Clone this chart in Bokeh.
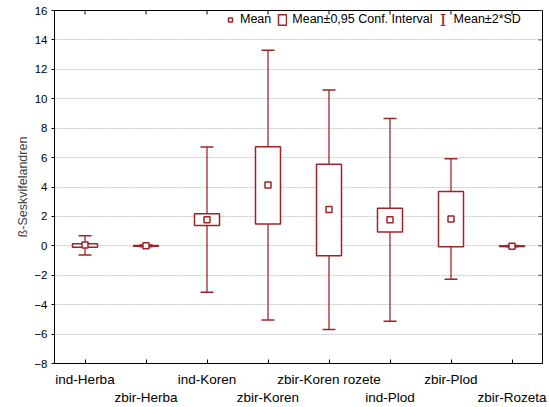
import math
from bokeh.plotting import figure
from bokeh.models import (Range1d, FixedTicker, LinearAxis, Legend, LegendItem,
                          Whisker, TeeHead, ColumnDataSource, Grid, Label)
from bokeh.embed import file_html
from bokeh.resources import INLINE

# ---- data ----
cats = ["ind-Herba", "zbir-Herba", "ind-Koren", "zbir-Koren",
        "zbir-Koren rozete", "ind-Plod", "zbir-Plod", "zbir-Rozeta"]
means = [0.05, 0.0, 1.78, 4.13, 2.47, 1.78, 1.82, -0.02]
ci_lo = [-0.10, -0.03, 1.38, 1.48, -0.67, 0.94, -0.07, -0.04]
ci_hi = [0.15, 0.03, 2.18, 6.74, 5.55, 2.56, 3.69, 0.01]
sd_lo = [-0.62, -0.06, -3.15, -5.05, -5.68, -5.13, -2.27, -0.06]
sd_hi = [0.68, 0.06, 6.72, 13.3, 10.6, 8.66, 5.92, 0.03]
y_ticks = [-8, -6, -4, -2, 0, 2, 4, 6, 8, 10, 12, 14, 16]
y_label = "ß-Seskvifelandren"
legend_labels = ["Mean", "Mean±0,95 Conf. Interval", "Mean±2*SD"]

RED = "#9e2427"
FONT = "Liberation Sans"

xs = list(range(1, len(cats) + 1))
src = ColumnDataSource(dict(x=xs, mean=means, ci_lo=ci_lo, ci_hi=ci_hi,
                            sd_lo=sd_lo, sd_hi=sd_hi))

x_lo, x_hi = 0.5, len(cats) + 0.5
y_lo, y_hi = y_ticks[0], y_ticks[-1]

p = figure(width=549, height=407, output_backend="svg", toolbar_location=None,
           x_range=Range1d(x_lo, x_hi), y_range=Range1d(y_lo, y_hi),
           x_axis_type=None, y_axis_type=None,
           min_border_left=54, min_border_right=7, min_border_top=10,
           min_border_bottom=43)
p.outline_line_color = "black"
p.outline_line_width = 1
p.background_fill_color = "white"

# grid
grid = Grid(dimension=1, ticker=FixedTicker(ticks=y_ticks),
            grid_line_color="#c8c8c8", grid_line_dash="2 1", grid_line_width=1)
p.add_layout(grid)

# left axis
yax = LinearAxis(ticker=FixedTicker(ticks=y_ticks), axis_label=y_label)
yax.major_label_text_font = FONT
yax.major_label_text_font_size = "11.5px"
yax.major_label_text_color = "black"
yax.major_tick_out = 3
yax.major_tick_in = 0
yax.minor_tick_out = 0
yax.minor_tick_in = 0
yax.major_label_standoff = 4
yax.axis_label_text_font = FONT
yax.axis_label_text_font_size = "12.5px"
yax.axis_label_text_font_style = "normal"
yax.axis_label_standoff = 1
yax.axis_line_color = "black"
p.add_layout(yax, "left")

# bottom axis with staggered labels
xax = LinearAxis(ticker=FixedTicker(ticks=xs))
xax.major_label_overrides = {x: (c if i % 2 == 0 else "\n" + c)
                             for i, (x, c) in enumerate(zip(xs, cats))}
xax.major_label_text_font = FONT
xax.major_label_text_font_size = "13.5px"
xax.major_label_text_color = "black"
xax.major_label_standoff = 8
xax.major_tick_out = 0
xax.major_tick_in = 4
xax.minor_tick_out = 0
xax.minor_tick_in = 0
xax.axis_line_color = "black"
p.add_layout(xax, "below")

# inward ticks on the top and right frame edges
p.scatter(x=xs, y=[y_hi] * len(xs), marker="dash", angle=math.pi / 2,
          size=8, line_color="black", line_width=1)
p.scatter(x=[x_hi] * len(y_ticks), y=y_ticks, marker="dash",
          size=8, line_color="#555555", line_width=1)

# whiskers (mean ± 2*SD)
wh = Whisker(source=src, base="x", upper="sd_hi", lower="sd_lo",
             line_color=RED, line_width=1.5, line_alpha=0.85,
             upper_head=TeeHead(size=13, line_color=RED, line_width=1.5),
             lower_head=TeeHead(size=13, line_color=RED, line_width=1.5))
wh.level = "underlay"
p.add_layout(wh)

# boxes (confidence interval)
box_r = p.vbar(x="x", width=0.41, bottom="ci_lo", top="ci_hi", source=src,
               fill_color="white", line_color=RED, line_width=1.5)
# means
mean_r = p.scatter(x="x", y="mean", source=src, marker="square", size=6,
                   fill_color="white", line_color=RED, line_width=1.5)
# legend placeholder for SD bars (glyph drawn as an I-bar label below)
sd_r = p.scatter(x=[float("nan")], y=[float("nan")], marker="dash",
                 size=13, line_color=RED, line_alpha=0)

legend = Legend(items=[LegendItem(label=legend_labels[0], renderers=[mean_r], index=0),
                       LegendItem(label=legend_labels[1], renderers=[box_r], index=0),
                       LegendItem(label=legend_labels[2], renderers=[sd_r], index=0)],
                orientation="horizontal", location=(167, 333),
                border_line_alpha=0, background_fill_alpha=0,
                label_text_font=FONT, label_text_font_size="12.5px",
                label_text_color="black",
                glyph_width=10, glyph_height=13, spacing=6, label_standoff=5,
                padding=4, margin=0)
p.add_layout(legend)

# I-bar symbol for the "Mean±2*SD" legend entry
p.add_layout(Label(x=388.5, y=343.5, x_units="screen", y_units="screen",
                   text="I", text_font="DejaVu Serif", text_font_size="17px",
                   text_color=RED, text_align="center", text_baseline="middle"))

open("out.html", "w").write(file_html(p, INLINE))
